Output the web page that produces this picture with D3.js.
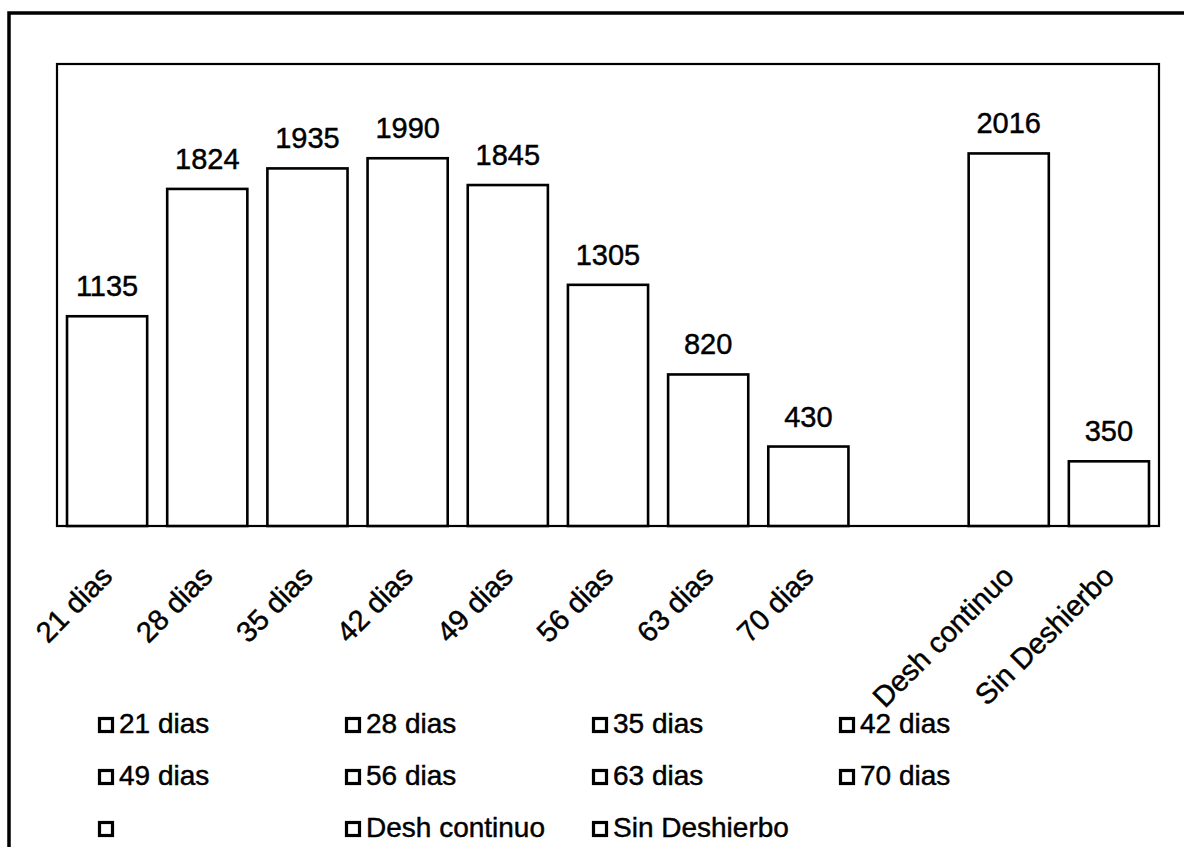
<!DOCTYPE html>
<html>
<head>
<meta charset="utf-8">
<script src="https://cdn.jsdelivr.net/npm/d3@7"></script>
<style>
  html, body { margin: 0; padding: 0; background: #fff; }
  svg { display: block; font-family: "Liberation Sans", Arial, sans-serif; }
</style>
</head>
<body>
<svg id="chart" width="1184" height="847"></svg>
<script>
// Treatments (weeding periods); one blank slot separates the timed treatments from the controls
const categories = ["21 dias", "28 dias", "35 dias", "42 dias", "49 dias", "56 dias", "63 dias", "70 dias", "", "Desh continuo", "Sin Deshierbo"];
const values = [1135, 1824, 1935, 1990, 1845, 1305, 820, 430, null, 2016, 350];
const legendLabels = ["21 dias", "28 dias", "35 dias", "42 dias", "49 dias", "56 dias", "63 dias", "70 dias", "", "Desh continuo", "Sin Deshierbo"];
const yDomain = [0, 2500];

const svg = d3.select("#chart");

// outer frame (runs past the right and bottom edges)
svg.append("rect")
  .attr("x", 9).attr("y", 13)
  .attr("width", 1300).attr("height", 1000)
  .attr("fill", "none").attr("stroke", "#000").attr("stroke-width", 3.5);

const plot = { left: 57, top: 64, right: 1159, bottom: 526 };

const x = d3.scaleBand()
  .domain(d3.range(categories.length))
  .range([plot.left, plot.right])
  .paddingInner(0.2)
  .paddingOuter(0.1);

const y = d3.scaleLinear().domain(yDomain).range([plot.bottom, plot.top]);

// plot area frame
svg.append("rect")
  .attr("x", plot.left).attr("y", plot.top)
  .attr("width", plot.right - plot.left).attr("height", plot.bottom - plot.top)
  .attr("fill", "#fff").attr("stroke", "#000").attr("stroke-width", 2.2);

const data = categories.map((c, i) => ({ i, c, v: values[i] })).filter(d => d.v != null);

// bars
svg.append("g").selectAll("rect")
  .data(data)
  .join("rect")
  .attr("x", d => x(d.i))
  .attr("y", d => y(d.v))
  .attr("width", x.bandwidth())
  .attr("height", d => y(0) - y(d.v))
  .attr("fill", "#fff")
  .attr("stroke", "#000")
  .attr("stroke-width", 2.6);

// shared text look: slightly heavy strokes
function inked(sel) {
  return sel.attr("fill", "#000").attr("stroke", "#000").attr("stroke-width", 0.45);
}

// value labels
svg.append("g").selectAll("text")
  .data(data)
  .join("text")
  .attr("x", d => x(d.i) + x.bandwidth() / 2)
  .attr("y", d => y(d.v) - 20)
  .attr("text-anchor", "middle")
  .attr("font-size", 29)
  .call(inked)
  .text(d => d.v);

// category axis (no line or ticks, rotated labels)
const xAxis = d3.axisBottom(x).tickSize(0).tickFormat(i => categories[i]);
const gx = svg.append("g")
  .attr("transform", `translate(0,${plot.bottom})`)
  .call(xAxis);
gx.select(".domain").remove();
gx.selectAll(".tick text")
  .attr("font-size", 29)
  .attr("font-family", "'Liberation Sans', Arial, sans-serif")
  .call(inked)
  .attr("text-anchor", "end")
  .attr("dy", null)
  .attr("y", null)
  .attr("transform", "translate(7,52) rotate(-45)");

// legend: 4 columns, 3 rows
const legend = svg.append("g");
const colX = [98, 345, 592, 839];
const rowY = [733, 785, 837];
legendLabels.forEach((lab, i) => {
  const cx = colX[i % 4];
  const cy = rowY[Math.floor(i / 4)];
  const g = legend.append("g");
  g.append("rect")
    .attr("x", cx + 1.5).attr("y", cy - 14.5)
    .attr("width", 13).attr("height", 13)
    .attr("fill", "#fff").attr("stroke", "#000").attr("stroke-width", 3.2);
  g.append("text")
    .attr("x", cx + 21).attr("y", cy)
    .attr("font-size", 28)
    .call(inked)
    .text(lab);
});
</script>
</body>
</html>
